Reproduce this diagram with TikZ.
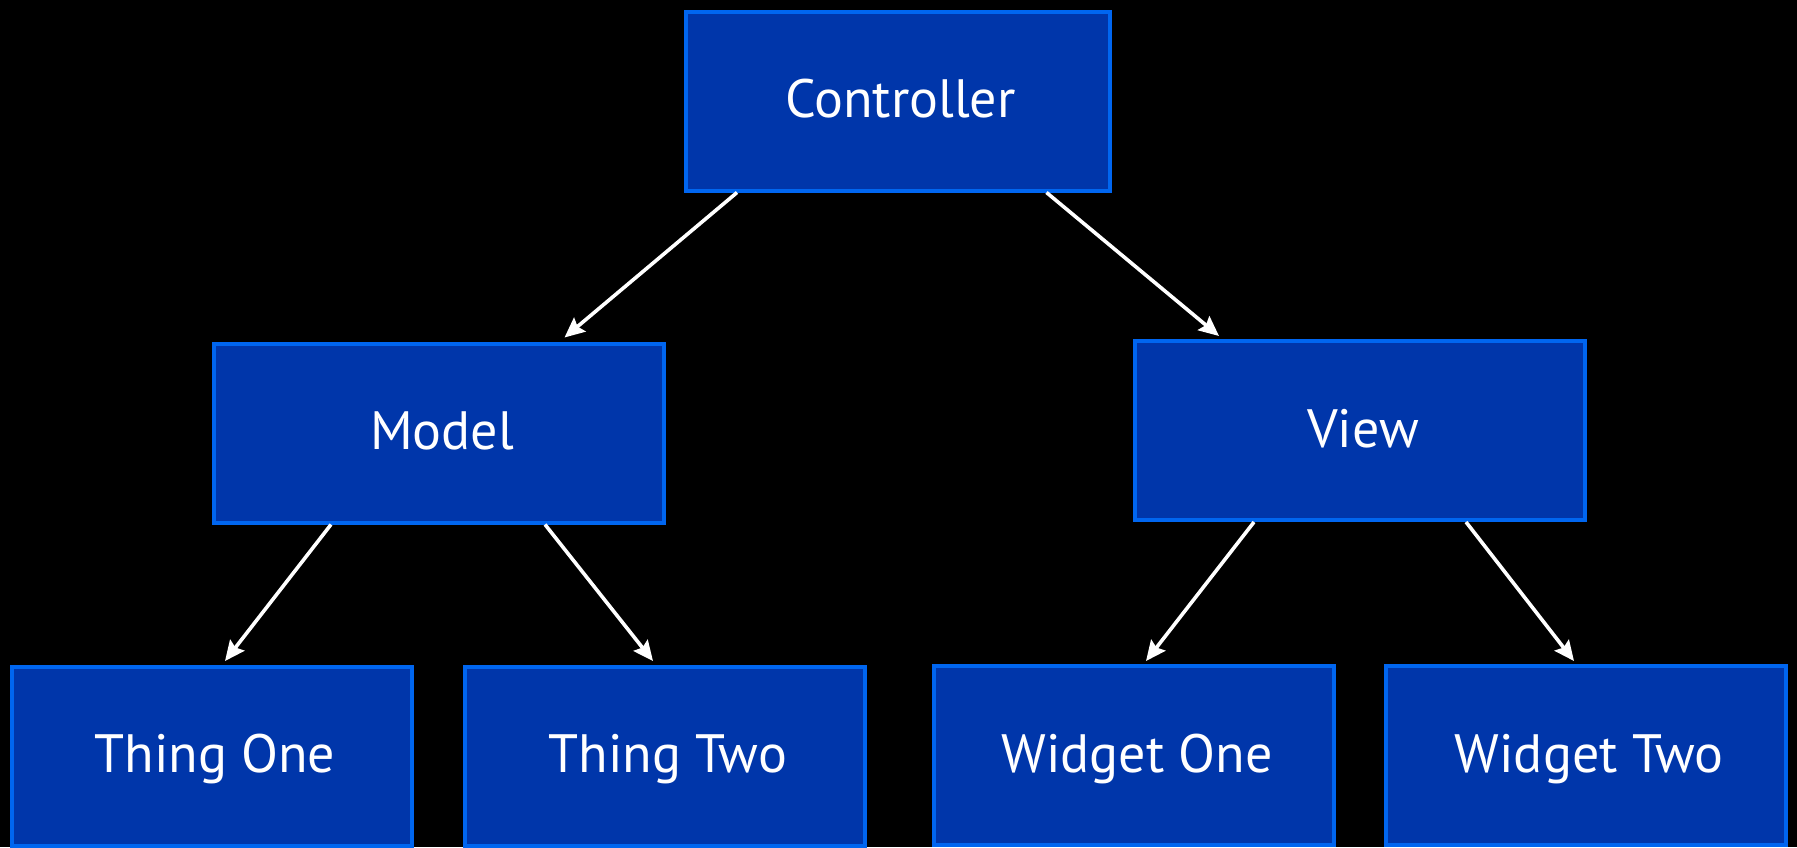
\documentclass[tikz,border=0pt]{standalone}
\usepackage{fontspec}
\setmainfont{PT Sans}
\usetikzlibrary{arrows.meta,calc}

\definecolor{boxfill}{RGB}{0,54,170}
\definecolor{boxedge}{RGB}{0,102,240}

\tikzset{
  block/.style={draw=boxedge, fill=boxfill, line width=2pt, rectangle,
    inner sep=0pt, minimum height=89.5pt, text=white,
    font=\fontsize{27}{27}\selectfont, text height=19.5pt, text depth=3pt,
    execute at begin node=\hspace*{3pt}},
  topbox/.style={block, minimum width=212pt},
  midbox/.style={block, minimum width=225pt},
  leafbox/.style={block, minimum width=200pt},
  link/.style={draw=white, line width=1.8pt,
    -{Stealth[length=10pt, width=9pt, inset=1.5pt]}}
}

\begin{document}
\begin{tikzpicture}[x=0.5pt, y=-0.5pt]
  % canvas
  \fill[black] (0,0) rectangle (1797,847);
  \useasboundingbox (0,0) rectangle (1797,847);

  % tree of boxes
  \node[topbox]  (ctrl)  at (897.5,101) {Controller};
  \node[midbox]  (model) at (439,433)   {Model};
  \node[midbox]  (view)  at (1360,430.5) {View};
  \node[leafbox] (t1)    at (212,756)   {Thing One};
  \node[leafbox] (t2)    at (665,756)   {Thing Two};
  \node[leafbox] (w1)    at (1134,755.5) {Widget One};
  \node[leafbox] (w2)    at (1586,755.5) {Widget Two};

  % connectors
  \draw[link] ($(ctrl.south west)+(53.5,0)$)  -- ($(model.north west)+(352.5,-4)$);
  \draw[link] ($(ctrl.south west)+(363,0)$)   -- ($(view.north west)+(86,-3)$);
  \draw[link] ($(model.south west)+(119,0)$)  -- ($(t1.north west)+(215,-3.5)$);
  \draw[link] ($(model.south west)+(333,0)$)  -- ($(t2.north west)+(190,-3.5)$);
  \draw[link] ($(view.south west)+(121,0)$)   -- ($(w1.north west)+(214,-3)$);
  \draw[link] ($(view.south west)+(333,0)$)   -- ($(w2.north west)+(190,-3)$);
\end{tikzpicture}
\end{document}
